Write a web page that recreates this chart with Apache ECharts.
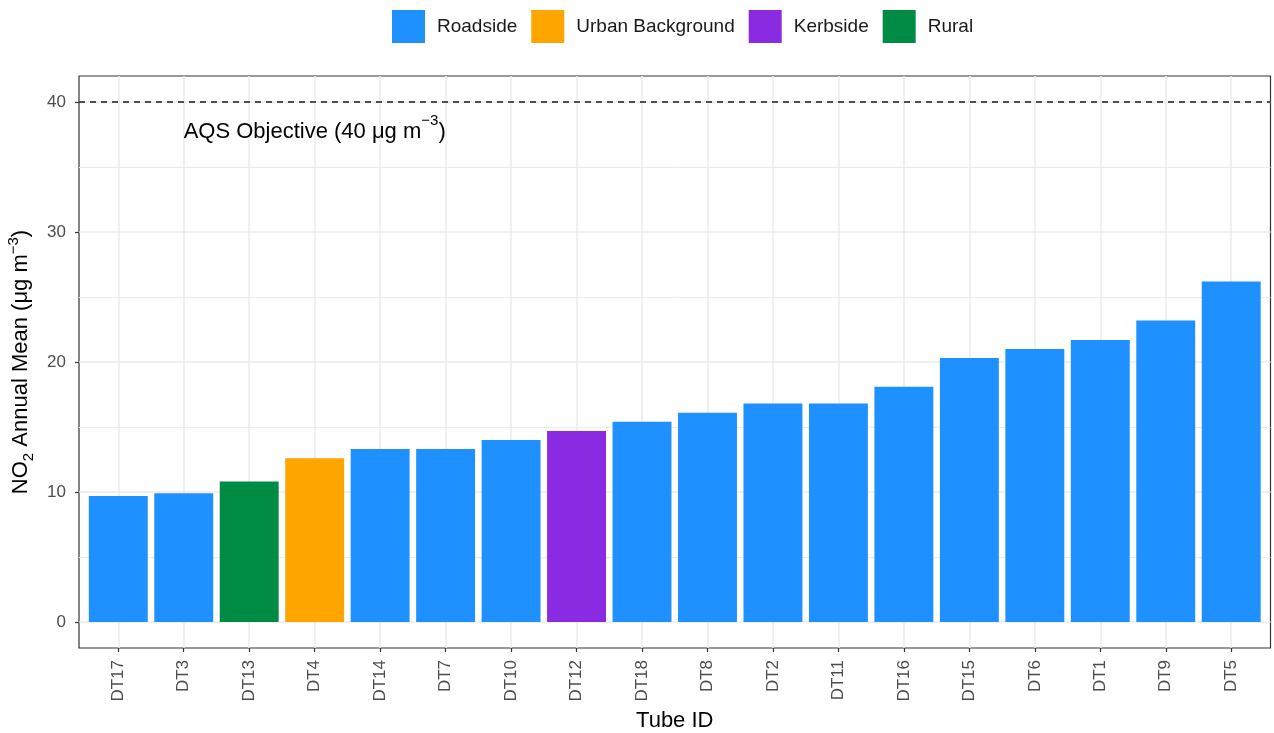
<!DOCTYPE html>
<html>
<head>
<meta charset="utf-8">
<script src="https://cdn.jsdelivr.net/npm/echarts@6/dist/echarts.min.js"></script>
<style>
html,body{margin:0;padding:0;background:#fff;}
#chart{width:1274px;height:733px;}
</style>
</head>
<body>
<div id="chart"></div>
<script>
const categories = ['DT17','DT3','DT13','DT4','DT14','DT7','DT10','DT12','DT18','DT8','DT2','DT11','DT16','DT15','DT6','DT1','DT9','DT5'];
const values = [9.7, 9.9, 10.8, 12.6, 13.3, 13.3, 14.0, 14.7, 15.4, 16.1, 16.8, 16.8, 18.1, 20.3, 21.0, 21.7, 23.2, 26.2];
const siteTypes = ['Roadside','Roadside','Rural','Urban Background','Roadside','Roadside','Roadside','Kerbside','Roadside','Roadside','Roadside','Roadside','Roadside','Roadside','Roadside','Roadside','Roadside','Roadside'];
const typeNames = ['Roadside','Urban Background','Kerbside','Rural'];
const typeColors = ['#1E90FF','#FFA500','#8A2BE2','#008B45'];
const yMajorTicks = [0, 10, 20, 30, 40];
const yMinorTicks = [5, 15, 25, 35];
const objectiveValue = 40;
const objectiveLabelPos = [3, 38];

const FONT = 'Liberation Sans, Arial, sans-serif';
const xIdx = categories.map((c, i) => i);

const series = typeNames.map((t, k) => {
  const s = {
    name: t,
    type: 'bar',
    barWidth: '90%',
    barGap: '-100%',
    itemStyle: { color: typeColors[k] },
    data: values.map((v, i) => siteTypes[i] === t ? [i, v] : null).filter(d => d !== null)
  };
  if (k === 0) {
    s.markLine = {
      silent: true, symbol: 'none', label: { show: false },
      lineStyle: { color: '#1a1a1a', type: [6, 5], width: 1.5 },
      data: [{ yAxis: objectiveValue }]
    };
    s.markPoint = {
      silent: true,
      symbol: 'rect', symbolSize: 1,
      itemStyle: { color: 'rgba(0,0,0,0)' },
      label: {
        show: true, position: 'inside',
        formatter: '{a|AQS Objective (40 μg m}{s|−3}{a|)}',
        rich: {
          a: { fontSize: 22, fontFamily: FONT, color: '#000', lineHeight: 30, verticalAlign: 'bottom' },
          s: { fontSize: 15, fontFamily: FONT, color: '#000', lineHeight: 30, verticalAlign: 'top' }
        }
      },
      data: [{ coord: objectiveLabelPos }]
    };
  }
  return s;
});

const chart = echarts.init(document.getElementById('chart'), null, { renderer: 'canvas' });
chart.setOption({
  animation: false,
  backgroundColor: '#fff',
  textStyle: { fontFamily: FONT },
  legend: {
    data: typeNames,
    left: 387, top: 5,
    icon: 'rect', itemWidth: 33, itemHeight: 33, itemGap: 14,
    textStyle: { fontSize: 19, color: '#1a1a1a', fontFamily: FONT, padding: [0, 0, 0, 7] }
  },
  grid: {
    left: 79, right: 3.5, top: 76, bottom: 85,
    containLabel: false, outerBoundsMode: 'none',
    show: true, borderColor: '#333', borderWidth: 1.2, backgroundColor: 'transparent'
  },
  xAxis: {
    type: 'value', min: -0.6, max: categories.length - 1 + 0.6,
    name: 'Tube ID', nameLocation: 'middle', nameGap: 60,
    nameTextStyle: { fontSize: 22, color: '#000', fontFamily: FONT },
    axisLine: { show: false, onZero: false },
    axisTick: { show: true, length: 4, customValues: xIdx, lineStyle: { color: '#333', width: 1.2 } },
    axisLabel: {
      customValues: xIdx, rotate: 90, margin: 12, fontSize: 17, color: '#4d4d4d', fontFamily: FONT,
      formatter: v => categories[Math.round(v)]
    },
    splitLine: { show: true, lineStyle: { color: '#ebebeb', width: 1.5 } }
  },
  yAxis: [{
    type: 'value', min: -2, max: 42,
    name: '{a|NO}{b|2}{a| Annual Mean (μg m}{c|−3}{a|)}', nameLocation: 'middle', nameGap: 34,
    nameTextStyle: {
      rich: {
        a: { fontSize: 22, color: '#000', fontFamily: FONT, lineHeight: 30, verticalAlign: 'middle' },
        b: { fontSize: 15, color: '#000', fontFamily: FONT, lineHeight: 30, verticalAlign: 'bottom' },
        c: { fontSize: 15, color: '#000', fontFamily: FONT, lineHeight: 30, verticalAlign: 'top' }
      }
    },
    axisLine: { show: false, onZero: false },
    axisTick: { show: true, length: 4, customValues: yMajorTicks, lineStyle: { color: '#333', width: 1.2 } },
    axisLabel: { customValues: yMajorTicks, margin: 13, fontSize: 17, color: '#4d4d4d', fontFamily: FONT },
    splitLine: { show: true, lineStyle: { color: '#ebebeb', width: 1.5 } }
  }, {
    type: 'value', min: -2, max: 42, position: 'left',
    axisLine: { show: false, onZero: false },
    axisTick: { show: false, customValues: yMinorTicks },
    axisLabel: { show: false, customValues: yMinorTicks },
    splitLine: { show: true, lineStyle: { color: '#ebebeb', width: 1 } }
  }],
  series: series
});
</script>
</body>
</html>
